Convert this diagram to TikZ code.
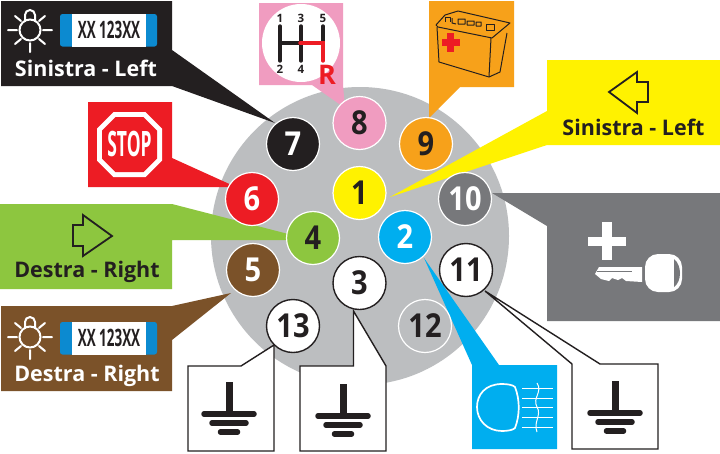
\documentclass[tikz,border=0pt]{standalone}
\usepackage{fontspec}
\setmainfont{Open Sans}[BoldFont={Open Sans Bold}]
\definecolor{cgray}{HTML}{BCBEC0}
\definecolor{cblack}{HTML}{231F20}
\definecolor{cred}{HTML}{ED1C24}
\definecolor{cpink}{HTML}{F09CC0}
\definecolor{corange}{HTML}{F7A11A}
\definecolor{cyellow}{HTML}{FFF200}
\definecolor{cdark}{HTML}{77787B}
\definecolor{cgreen}{HTML}{8DC63F}
\definecolor{cblue}{HTML}{00AEEF}
\definecolor{cbrown}{HTML}{7B5229}
\definecolor{cplate}{HTML}{0C8AD0}
\newcommand{\pinnum}[1]{\scalebox{.88}[1]{#1}}
\tikzset{
 pin/.style={circle,minimum size=53pt,inner sep=0pt,line width=1.2pt,draw=white,font=\fontsize{33}{33}\selectfont\bfseries,text=cblack},
 blackpin/.style={pin,fill=white,draw=cblack,line width=1.4pt},
 lbl/.style={font=\fontsize{21.5}{22}\selectfont\bfseries,inner sep=0pt},
 gndline/.style={line width=5.5pt,cblack,line cap=round},
}
\newcommand{\lampicon}[3]{%
 \begin{scope}[shift={(#1,#2)},#3,line width=2pt,line cap=round]
 \draw (0,0) circle (10.5);
 \draw (-5,-9) -- (-5,-15) arc[start angle=180,end angle=360,radius=5] -- (5,-9);
 \draw (-22,0)--(-13,0) (13,0)--(22,0) (0,13)--(0,22)
   (-15,14)--(-9,9) (15,14)--(9,9) (-15,-14)--(-9,-9) (15,-14)--(9,-9);
 \end{scope}}
\newcommand{\plateicon}[2]{%
 \fill[cplate,rounded corners=2.5pt] (#1,#2) rectangle ++(97,32.5);
 \fill[white] (#1+12,#2) rectangle ++(74,32.5);
 \node[inner sep=0pt,text=cblack] at (#1+49,#2+16) {\scalebox{.56}[1]{\fontsize{24}{24}\selectfont\bfseries XX 123XX}};}
\newcommand{\gndicon}[2]{%
 \begin{scope}[shift={(#1,#2)}]
 \fill[cblack] (-3.5,-32) rectangle (3.5,0);
 \draw[gndline] (-25,0)--(25,0);
 \draw[gndline] (-17,9)--(17,9);
 \draw[gndline] (-8.5,18)--(8.5,18);
 \end{scope}}
\begin{document}
\begin{tikzpicture}[x=1pt,y=-1pt]
\useasboundingbox (0,0) rectangle (720,453);
\fill[white] (0,0) rectangle (720,453);
\fill[cgray] (360,236) circle (149);
% callouts
\coordinate (t7) at (275,123); \coordinate (t6) at (236,187); \coordinate (t8) at (345,106);
\coordinate (t9) at (429,118); \coordinate (t1) at (390,197); \coordinate (t10) at (492,193);
\coordinate (t4) at (296,236); \coordinate (t5) at (231,293); \coordinate (t2) at (424,258);
\fill[cblack] (1,1) -- (172,1) -- (172,50) -- (t7) -- (172,86) -- (1,86) -- cycle;
\fill[cred] (88,102) -- (172,102) -- (172,158) -- (t6) -- (172,187) -- (88,187) -- cycle;
\fill[cpink] (259,3) -- (343,3) -- (343,85) -- (345,108) -- (312,85) -- (259,85) -- cycle;
\fill[corange] (429,1) -- (514,1) -- (514,87) -- (460,87) -- (t9) -- cycle;
\fill[cyellow] (547,60) -- (720,60) -- (720,145) -- (547,145) -- (t1) -- (547,111) -- cycle;
\fill[cdark] (547,193) -- (720,193) -- (720,321) -- (547,321) -- (547,226) -- (t10) -- cycle;
\fill[cgreen] (0,204) -- (172,204) -- (t4) -- (296,240) -- (172,240) -- (172,289) -- (0,289) -- cycle;
\fill[cbrown] (1,306) -- (172,306) -- (t5) -- (172,340) -- (172,391) -- (1,391) -- cycle;
\fill[cblue] (472,365) -- (t2) -- (499,365) -- (557,365) -- (557,449) -- (472,449) -- cycle;
\begin{scope}[draw=cblack,line width=1.4pt,fill=white,line join=miter]
\filldraw (188,366) -- (241,366) -- (274,345) -- (274,451) -- (188,451) -- cycle;
\filldraw (300,366) -- (353.5,366) -- (353.5,311) -- (386,366) -- (386,451) -- (300,451) -- cycle;
\filldraw (572,364) -- (485,291) -- (600,364) -- (658,364) -- (658,449) -- (572,449) -- cycle;
\end{scope}
% pins
\node[pin,fill=cblack,text=white] (p7) at (293,144) {\pinnum{7}};
\node[pin,fill=cpink] (p8) at (359.5,123) {\pinnum{8}};
\node[pin,fill=corange] (p9) at (426,144) {\pinnum{9}};
\node[pin,fill=cyellow] (p1) at (359.5,193) {\pinnum{1}};
\node[pin,fill=cred,text=white] (p6) at (252,199) {\pinnum{6}};
\node[pin,fill=cdark,text=white] (p10) at (465,199) {\pinnum{10}};
\node[pin,fill=cgreen] (p4) at (313,238) {\pinnum{4}};
\node[pin,fill=cblue,text=white] (p2) at (405,237) {\pinnum{2}};
\node[pin,fill=cbrown,text=white,draw=white] (p5) at (253,270) {\pinnum{5}};
\node[blackpin] (p3) at (359.5,283) {\pinnum{3}};
\node[blackpin] (p13) at (293,326) {\pinnum{13}};
\node[pin,fill=cgray] (p12) at (425,326) {\pinnum{12}};
\node[blackpin] (p11) at (466,270) {\pinnum{11}};
% black callout
\lampicon{30}{30}{draw=white}
\plateicon{60}{14}
\node[lbl,text=white] (l7) at (86,68) {Sinistra - Left};
% brown callout
\lampicon{30}{337}{draw=white}
\plateicon{60}{322}
\node[lbl,text=white] (l5) at (87,376) {Destra - Right};
% green
\node[lbl,text=cblack] (l4) at (87,272) {Destra - Right};
\draw[cblack,line width=1.8pt,line join=miter] (73,225)--(83,225)--(83,215)--(112,236)--(83,256)--(83,246)--(73,246)--cycle;
% yellow
\node[lbl,text=cblack] (l1) at (633.5,127) {Sinistra - Left};
\draw[cblack,line width=1.8pt,line join=miter] (648,82)--(637,82)--(637,72)--(609,92)--(637,113)--(637,102)--(648,102)--cycle;
% stop
\fill[white] (113.5,112)--(145.5,112)--(162,128.5)--(162,160.5)--(145.5,177)--(113.5,177)--(97,160.5)--(97,128.5)--cycle;
\fill[cred] (115.5,117)--(143.5,117)--(157,130.5)--(157,158.5)--(143.5,172)--(115.5,172)--(102,158.5)--(102,130.5)--cycle;
\node[inner sep=0pt,text=white] (stop) at (129.5,144) {\scalebox{.5}[1]{\fontsize{35}{35}\selectfont\bfseries STOP}};
% shift
\fill[white] (301,43) circle (39);
\begin{scope}[line width=3.4pt,line cap=round]
\draw[cblack] (280,26)--(280,61) (301,26)--(301,61) (323,26)--(323,43) (280,43)--(301,43);
\draw[cred] (300,43)--(323,43)--(323,61);
\end{scope}
\begin{scope}[every node/.style={inner sep=0pt,text=cblack,font=\fontsize{11.5}{12}\selectfont\bfseries}]
\node (n1) at (280,18) {1};
\node (n3) at (301,18) {3};
\node (n5) at (323,18) {5};
\node (n2) at (280,69) {2};
\node (n4) at (301,69) {4};
\end{scope}
\node[inner sep=0pt,text=cred,font=\fontsize{27}{27}\selectfont\bfseries] (nr) at (327,75) {R};
% battery
\begin{scope}[cblack,line width=1pt,line join=round]
\draw (436,25) -- (445,15) -- (458,11) -- (510,23) -- (492,38) -- (438,27) -- cycle;
\draw (437,27) -- (439,62) -- (489,77) -- (500,72) -- (507,33);
\draw (491,38) -- (489,77);
\draw[fill=corange] (445,22) -- (445,17) -- (450,17) -- (450,22);
\draw (452,18) -- (452,23) -- (456,24) (458,24) rectangle (465,19) (467,25) rectangle (474,21) (476,26) rectangle (481,22);
\draw[fill=corange] (486,30) -- (486,24) -- (494,24) -- (494,30) -- cycle;
\end{scope}
\fill[cred] (442,39) rectangle (460,46); \fill[cred] (447,33) rectangle (454,52);
% grounds
\gndicon{229}{414}
\gndicon{343}{416}
\gndicon{615}{413}
% headlamp
\draw[white,line width=1.7pt] (502,384) .. controls (485,384) and (477,395) .. (477,407) .. controls (477,420) and (487,431) .. (502,431) .. controls (508,431) and (513,430) .. (515,428) .. controls (520,415) and (520,400) .. (515,387) .. controls (513,385) and (508,384) .. (502,384) -- cycle;
\draw[white,line width=1pt] (522,388)--(553,388) (522,398)--(553,398) (522,407)--(553,407) (522,417)--(553,417) (522,427)--(553,427);
\draw[white,line width=1pt] (537,383) .. controls (543,392) and (532,398) .. (537,407) .. controls (542,415) and (533,422) .. (537,432);
% key
\fill[white] (602,222) rectangle (612,260);
\fill[white] (588,237) rectangle (626,246);
\fill[white] (599,267) -- (642,267) -- (642,282) -- (626,281) -- (622,278) -- (618,280) -- (612,278) -- (609,281) -- (601,279) -- (595,274) -- cycle;
\draw[cdark,line width=1pt] (597,271.5) -- (632,271.5);
\fill[white,rounded corners=13pt] (645,254) rectangle (682,292);
\fill[cdark] (674,259) .. controls (678,262) and (680,268) .. (680,273) .. controls (680,279) and (678,284) .. (674,287) -- cycle;
\end{tikzpicture}
\end{document}
